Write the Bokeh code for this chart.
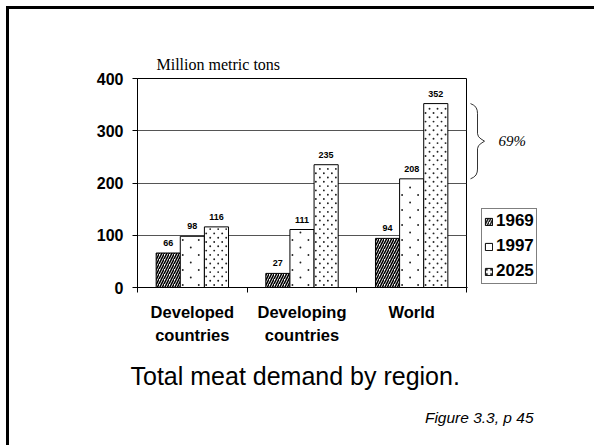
from bokeh.plotting import figure
from bokeh.layouts import row, column
from bokeh.core.properties import value
from bokeh.models import (Range1d, FixedTicker, ColumnDataSource, LabelSet,
                          Legend, LegendItem)
from bokeh.embed import file_html
from bokeh.resources import INLINE

# ---- data ----
categories = ["Developed\ncountries", "Developing\ncountries", "World"]
years = ["1969", "1997", "2025"]
v1969 = [66, 27, 94]
v1997 = [98, 111, 208]
v2025 = [116, 235, 352]
y_ticks = [0, 100, 200, 300, 400]
growth_label = "69%"
unit_label = "Million metric tons"
title_text = "Total meat demand by region."
source_text = "Figure 3.3, p 45"

SANS = "Liberation Sans"
SERIF = "Liberation Serif"

TOP, BOT = 69, 63
H_MAIN = 341
W_MAIN = 458
LEFT, RIGHT = 128, 1
Y_MAX = 400
yr = Range1d(0, Y_MAX)
n = len(categories)

# pixels per data unit (frame size / range) - used only for the dot fill texture
FRAME_W = W_MAIN - LEFT - RIGHT
FRAME_H = H_MAIN - TOP - BOT
PXX = FRAME_W / n
PXY = FRAME_H / Y_MAX

# ---------------- main chart ----------------
p = figure(width=W_MAIN, height=H_MAIN, output_backend="svg", toolbar_location=None,
           x_range=Range1d(0, n), y_range=yr,
           min_border_left=LEFT, min_border_right=RIGHT, min_border_top=TOP, min_border_bottom=BOT)
p.background_fill_color = "white"
p.border_fill_color = "white"
p.outline_line_color = "black"
p.outline_line_width = 1

p.title.text = unit_label
p.title.align = "left"
p.title.offset = 19
p.title.standoff = 11
p.title.text_font = SERIF
p.title.text_font_style = "normal"
p.title.text_font_size = "16px"
p.title.text_color = "black"

p.yaxis.ticker = FixedTicker(ticks=y_ticks, minor_ticks=[])
p.yaxis.major_label_text_font = SANS
p.yaxis.major_label_text_font_style = "bold"
p.yaxis.major_label_text_font_size = "16px"
p.yaxis.major_label_text_color = "black"
p.yaxis.major_label_standoff = 9
p.yaxis.major_tick_out = 5
p.yaxis.major_tick_in = 0
p.yaxis.axis_line_color = "black"
p.yaxis.major_tick_line_color = "black"

p.xaxis.ticker = FixedTicker(ticks=[i + 0.5 for i in range(n)], minor_ticks=list(range(n + 1)))
p.xaxis.major_label_overrides = {i + 0.5: c for i, c in enumerate(categories)}
p.xaxis.minor_tick_out = 5
p.xaxis.minor_tick_in = 0
p.xaxis.minor_tick_line_color = "black"
p.xaxis.major_tick_line_color = None
p.xaxis.major_tick_out = 0
p.xaxis.major_tick_in = 0
p.xaxis.major_label_standoff = 10
p.xaxis.major_label_text_font = SANS
p.xaxis.major_label_text_font_style = "bold"
p.xaxis.major_label_text_font_size = "16.5px"
p.xaxis.major_label_text_color = "black"
p.xaxis.major_label_text_line_height = 1.3
p.xaxis.axis_line_color = "black"

p.xgrid.grid_line_color = None
p.ygrid.ticker = FixedTicker(ticks=y_ticks)
p.ygrid.grid_line_color = "#555555"
p.ygrid.grid_line_width = 1

width = 0.22
offsets = [-0.22, 0.0, 0.22]
series = [v1969, v1997, v2025]
# fill texture per series: (period px, row px, x start px) for staggered dots
dot_tex = [None, (16, 7.5, 2.5), (8, 4.3, 1.8)]


def dot_fill(x_centers, tops, period, row_h, x0):
    """staggered dot texture clipped to the inside of each bar"""
    bw = width * PXX
    dx, dy = [], []
    for xc, t in zip(x_centers, tops):
        left = xc - width / 2
        top_px = t * PXY
        r = 0
        y_px = 2.5
        while y_px < top_px - 1.5:
            xo = x0 + (r % 2) * period / 2
            while xo < bw - 1.2:
                dx.append(left + xo / PXX)
                dy.append(y_px / PXY)
                xo += period
            r += 1
            y_px += row_h
    return dx, dy


for k in range(3):
    xs = [i + 0.5 + offsets[k] for i in range(n)]
    src = ColumnDataSource(dict(x=xs, top=series[k], lab=[str(v) for v in series[k]]))
    if k == 0:
        p.vbar(x="x", top="top", width=width, source=src, fill_color="white",
               line_color="black", line_width=1, hatch_color="black",
               hatch_pattern="right_diagonal_line", hatch_scale=5, hatch_weight=1.6)
    else:
        p.vbar(x="x", top="top", width=width, source=src, fill_color="white",
               line_color="black", line_width=1)
        dx, dy = dot_fill(xs, series[k], *dot_tex[k])
        p.scatter(x=dx, y=dy, marker="circle", size=1.9, fill_color="#222222",
                  line_color=None)
    p.add_layout(LabelSet(x="x", y="top", text="lab", source=src, y_offset=7,
                          text_align="center", text_baseline="bottom",
                          text_font=value(SANS), text_font_style="bold",
                          text_font_size=value("9px"), text_color="black"))

# ---------------- right side: brace, growth, legend ----------------
RW = 127
q = figure(width=RW, height=H_MAIN, output_backend="svg", toolbar_location=None,
           x_range=Range1d(0, RW), y_range=yr,
           min_border_left=0, min_border_right=0, min_border_top=TOP, min_border_bottom=BOT)
q.axis.visible = False
q.grid.visible = False
q.outline_line_color = None
q.background_fill_color = "white"
q.border_fill_color = "white"

proxy_hatch = [dict(hatch_pattern="right_diagonal_line", hatch_scale=5, hatch_weight=1.6),
               dict(hatch_pattern="blank"),
               dict(hatch_pattern="dot", hatch_scale=4.5, hatch_weight=0.6)]
items = []
for k in range(3):
    # legend proxies (placed off-range, only their swatches are shown)
    r = q.vbar(x=[-50], top=[0], width=1, fill_color="white", line_color="black",
               line_width=1, hatch_color="#222222", **proxy_hatch[k])
    items.append(LegendItem(label=years[k], renderers=[r]))
legend = Legend(items=items, location=(14, 3), orientation="vertical",
                label_text_font=SANS, label_text_font_style="bold",
                label_text_font_size="17px", label_text_color="black",
                glyph_width=9, glyph_height=9, label_standoff=3, label_height=20,
                spacing=5, padding=2, margin=0,
                border_line_color="black", border_line_width=1,
                background_fill_color="white", background_fill_alpha=1)
q.add_layout(legend)

top_v, bot_v = v2025[-1], v1997[-1]
f_half = [0, 0.02, 0.05, 0.09, 0.13, 0.40, 0.44, 0.47, 0.50]
x_half = [3, 6, 8.5, 9.7, 10, 10, 11, 13.5, 17]
f_path = f_half + [1 - f for f in reversed(f_half[:-1])]
x_path = x_half + list(reversed(x_half[:-1]))
q.line(x=x_path, y=[top_v - f * (top_v - bot_v) for f in f_path],
       line_color="black", line_width=0.8)
q.text(x=[31], y=[(top_v + bot_v) / 2], text=[growth_label], text_font=value(SERIF),
       text_font_style="italic", text_font_size=value("15px"), text_baseline="middle",
       text_align="left", text_color="black")

# ---------------- bottom: title and source ----------------
BW, BH = 585, 95
b = figure(width=BW, height=BH, output_backend="svg", toolbar_location=None,
           x_range=Range1d(0, BW), y_range=Range1d(BH, 0),
           min_border_left=0, min_border_right=0, min_border_top=0, min_border_bottom=0)
b.axis.visible = False
b.grid.visible = False
b.outline_line_color = None
b.background_fill_color = "white"
b.border_fill_color = "white"
b.text(x=[121], y=[25], text=[title_text], text_font=value(SANS),
       text_font_size=value("25px"), text_baseline="middle", text_align="left",
       text_color="black")
b.text(x=[524], y=[67], text=[source_text], text_font=value(SANS),
       text_font_style="italic", text_font_size=value("15.5px"), text_baseline="middle",
       text_align="right", text_color="black")

page = column(row(p, q), b)
page.styles = {"margin-left": "6px", "margin-top": "6px",
               "border-left": "3px solid black", "border-top": "3px solid black"}

open("out.html", "w").write(file_html(page, INLINE))
